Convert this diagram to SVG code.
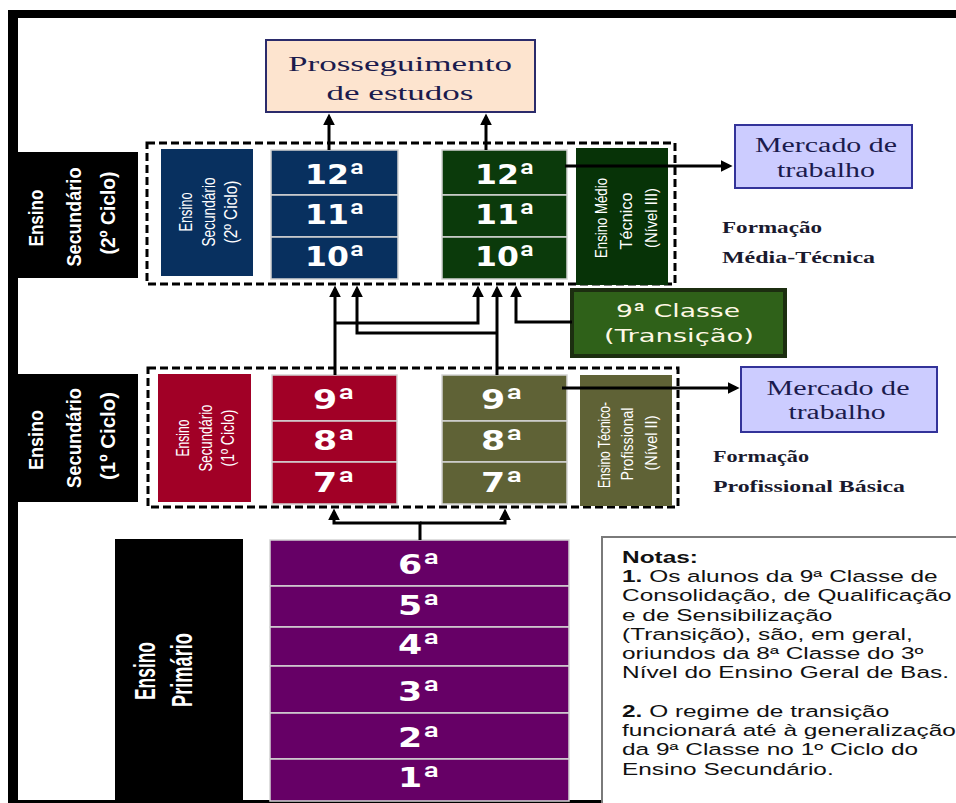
<svg xmlns="http://www.w3.org/2000/svg" width="956" height="803" viewBox="0 0 956 803">
<style>
.wt{fill:#fff;font-family:"Liberation Sans",Arial,sans-serif}
.bw{font-weight:bold}
.grade{fill:#fff;font-family:"DejaVu Sans",Verdana,sans-serif;font-weight:bold;font-size:26px;text-anchor:middle}
.sup{font-family:Roboto,"Noto Sans",sans-serif;font-weight:bold;font-size:30px}
.serif{font-family:"Liberation Serif","Times New Roman",serif;fill:#1b1b4d;text-anchor:middle}
.form{font-family:"Liberation Serif","Times New Roman",serif;font-weight:bold;font-size:16px;fill:#1a1a2e}
.cell{stroke:#d4d4d4;stroke-width:1.5}
.dash{fill:none;stroke:#000;stroke-width:3;stroke-dasharray:8 4}
.conn{fill:none;stroke:#000;stroke-width:3}
.note{font-family:"Liberation Sans",Arial,sans-serif;font-size:16.5px;fill:#111}
</style>
<defs>
<marker id="ah" viewBox="0 0 10 10" refX="7" refY="5" markerWidth="12" markerHeight="12" markerUnits="userSpaceOnUse" orient="auto">
<path d="M0,0 L10,5 L0,10 z" fill="#000"/>
</marker>
</defs>
<rect width="956" height="803" fill="#fff"/>
<g id="frame">
<rect x="8" y="10" width="948" height="8" fill="#000"/>
<rect x="8" y="10" width="10" height="793" fill="#000"/>
<rect x="8" y="800" width="948" height="3" fill="#000"/>
</g>

<g id="prosseguimento">
<rect x="266" y="40" width="269" height="72" fill="#fde4cf" stroke="#2b2b6b" stroke-width="2"/>
<text class="serif" x="400" y="71" font-size="22" textLength="224" lengthAdjust="spacingAndGlyphs">Prosseguimento</text>
<text class="serif" x="400" y="100" font-size="22" textLength="147" lengthAdjust="spacingAndGlyphs">de estudos</text>
</g>

<g id="mercado1">
<rect x="735" y="125" width="177" height="63" fill="#ccccff" stroke="#333399" stroke-width="2"/>
<text class="serif" x="826" y="152" font-size="20" textLength="142" lengthAdjust="spacingAndGlyphs">Mercado de</text>
<text class="serif" x="826" y="177" font-size="20" textLength="98" lengthAdjust="spacingAndGlyphs">trabalho</text>
</g>

<g id="mercado2">
<rect x="741" y="367" width="196" height="65" fill="#ccccff" stroke="#333399" stroke-width="2"/>
<text class="serif" x="838" y="395" font-size="20" textLength="143" lengthAdjust="spacingAndGlyphs">Mercado de</text>
<text class="serif" x="837" y="419" font-size="20" textLength="97" lengthAdjust="spacingAndGlyphs">trabalho</text>
</g>

<g id="label-sec2">
<rect x="17" y="152" width="121" height="126" fill="#000"/>
<text class="wt bw" font-size="21" text-anchor="middle" transform="translate(43,218) rotate(-90)" textLength="57" lengthAdjust="spacingAndGlyphs">Ensino</text>
<text class="wt bw" font-size="21" text-anchor="middle" transform="translate(81,217) rotate(-90)" textLength="99" lengthAdjust="spacingAndGlyphs">Secundário</text>
<text class="wt bw" font-size="21" text-anchor="middle" transform="translate(115,213) rotate(-90)" textLength="83" lengthAdjust="spacingAndGlyphs">(2º Ciclo)</text>
</g>
<g id="label-sec1">
<rect x="17" y="374" width="121" height="128" fill="#000"/>
<text class="wt bw" font-size="21" text-anchor="middle" transform="translate(43,440) rotate(-90)" textLength="60" lengthAdjust="spacingAndGlyphs">Ensino</text>
<text class="wt bw" font-size="21" text-anchor="middle" transform="translate(81,438) rotate(-90)" textLength="100" lengthAdjust="spacingAndGlyphs">Secundário</text>
<text class="wt bw" font-size="21" text-anchor="middle" transform="translate(115,436) rotate(-90)" textLength="88" lengthAdjust="spacingAndGlyphs">(1º Ciclo)</text>
</g>
<g id="label-primario">
<rect x="115" y="539" width="128" height="262" fill="#000"/>
<text class="wt bw" font-size="30" text-anchor="middle" transform="translate(155,671) rotate(-90)" textLength="58" lengthAdjust="spacingAndGlyphs">Ensino</text>
<text class="wt bw" font-size="30" text-anchor="middle" transform="translate(192,670) rotate(-90)" textLength="74" lengthAdjust="spacingAndGlyphs">Primário</text>
</g>

<g id="groups">
<rect class="dash" x="147" y="143" width="528" height="141"/>
<rect class="dash" x="148" y="368" width="530" height="139"/>
</g>

<g id="sec2-blue">
<rect x="161" y="149" width="92" height="127" fill="#08305f"/>
<text class="wt" font-size="18" text-anchor="middle" transform="translate(192,212) rotate(-90)" textLength="39" lengthAdjust="spacingAndGlyphs">Ensino</text>
<text class="wt" font-size="18" text-anchor="middle" transform="translate(215,212) rotate(-90)" textLength="69" lengthAdjust="spacingAndGlyphs">Secundário</text>
<text class="wt" font-size="18" text-anchor="middle" transform="translate(237,212) rotate(-90)" textLength="63" lengthAdjust="spacingAndGlyphs">(2º Ciclo)</text>
</g>
<g id="blue-grades">
<rect class="cell" x="271" y="150" width="127" height="45" fill="#08305f"/>
<rect class="cell" x="271" y="195" width="127" height="42" fill="#08305f"/>
<rect class="cell" x="271" y="237" width="127" height="42" fill="#08305f"/>
<text class="grade" x="335" y="184" textLength="60" lengthAdjust="spacingAndGlyphs">12<tspan class="sup">ª</tspan></text>
<text class="grade" x="335" y="224" textLength="60" lengthAdjust="spacingAndGlyphs">11<tspan class="sup">ª</tspan></text>
<text class="grade" x="335" y="266" textLength="60" lengthAdjust="spacingAndGlyphs">10<tspan class="sup">ª</tspan></text>
</g>

<g id="green-grades">
<rect class="cell" x="442" y="150" width="125" height="45" fill="#0b3a0b"/>
<rect class="cell" x="442" y="195" width="125" height="42" fill="#0b3a0b"/>
<rect class="cell" x="442" y="237" width="125" height="42" fill="#0b3a0b"/>
<text class="grade" x="505" y="184" textLength="60" lengthAdjust="spacingAndGlyphs">12<tspan class="sup">ª</tspan></text>
<text class="grade" x="505" y="224" textLength="60" lengthAdjust="spacingAndGlyphs">11<tspan class="sup">ª</tspan></text>
<text class="grade" x="505" y="266" textLength="60" lengthAdjust="spacingAndGlyphs">10<tspan class="sup">ª</tspan></text>
</g>
<g id="medio-tecnico">
<rect x="576" y="148" width="92" height="137" fill="#073307"/>
<text class="wt" font-size="17" text-anchor="middle" transform="translate(607,218) rotate(-90)" textLength="80" lengthAdjust="spacingAndGlyphs">Ensino Médio</text>
<text class="wt" font-size="17" text-anchor="middle" transform="translate(632,221) rotate(-90)" textLength="57" lengthAdjust="spacingAndGlyphs">Técnico</text>
<text class="wt" font-size="17" text-anchor="middle" transform="translate(657,218) rotate(-90)" textLength="60" lengthAdjust="spacingAndGlyphs">(Nível III)</text>
</g>
<g id="formacao-media">
<text class="form" x="722" y="233" textLength="100" lengthAdjust="spacingAndGlyphs">Formação</text>
<text class="form" x="722" y="263" textLength="153" lengthAdjust="spacingAndGlyphs">Média-Técnica</text>
</g>

<g id="transicao">
<rect x="572" y="290" width="213" height="66" fill="#2f6119" stroke="#1c2e10" stroke-width="4"/>
<text x="678" y="317" font-family="'DejaVu Sans',Verdana,sans-serif" font-size="18" fill="#fff8e6" text-anchor="middle" textLength="124" lengthAdjust="spacingAndGlyphs">9<tspan font-family="Roboto,sans-serif" font-size="19">ª</tspan> Classe</text>
<text x="679" y="342" font-family="'DejaVu Sans',Verdana,sans-serif" font-size="18" fill="#fff8e6" text-anchor="middle" textLength="150" lengthAdjust="spacingAndGlyphs">(Transição)</text>
</g>

<g id="sec1-red">
<rect x="158" y="374" width="93" height="128" fill="#a10026"/>
<text class="wt" font-size="18" text-anchor="middle" transform="translate(189,438) rotate(-90)" textLength="37" lengthAdjust="spacingAndGlyphs">Ensino</text>
<text class="wt" font-size="18" text-anchor="middle" transform="translate(212,438) rotate(-90)" textLength="67" lengthAdjust="spacingAndGlyphs">Secundário</text>
<text class="wt" font-size="18" text-anchor="middle" transform="translate(234,438) rotate(-90)" textLength="57" lengthAdjust="spacingAndGlyphs">(1º Ciclo)</text>
</g>
<g id="red-grades">
<rect class="cell" x="272" y="375" width="125" height="46" fill="#a10026"/>
<rect class="cell" x="272" y="421" width="125" height="41" fill="#a10026"/>
<rect class="cell" x="272" y="462" width="125" height="42" fill="#a10026"/>
<text class="grade" x="334" y="409" textLength="42" lengthAdjust="spacingAndGlyphs">9<tspan class="sup">ª</tspan></text>
<text class="grade" x="334" y="450" textLength="42" lengthAdjust="spacingAndGlyphs">8<tspan class="sup">ª</tspan></text>
<text class="grade" x="334" y="492" textLength="42" lengthAdjust="spacingAndGlyphs">7<tspan class="sup">ª</tspan></text>
</g>
<g id="olive-grades">
<rect class="cell" x="442" y="375" width="125" height="46" fill="#5f6236"/>
<rect class="cell" x="442" y="421" width="125" height="41" fill="#5f6236"/>
<rect class="cell" x="442" y="462" width="125" height="42" fill="#5f6236"/>
<text class="grade" x="502" y="409" textLength="42" lengthAdjust="spacingAndGlyphs">9<tspan class="sup">ª</tspan></text>
<text class="grade" x="502" y="450" textLength="42" lengthAdjust="spacingAndGlyphs">8<tspan class="sup">ª</tspan></text>
<text class="grade" x="502" y="492" textLength="42" lengthAdjust="spacingAndGlyphs">7<tspan class="sup">ª</tspan></text>
</g>
<g id="tecnico-profissional">
<rect x="580" y="375" width="92" height="131" fill="#5f6236"/>
<text class="wt" font-size="17" text-anchor="middle" transform="translate(610,445) rotate(-90)" textLength="86" lengthAdjust="spacingAndGlyphs">Ensino Técnico-</text>
<text class="wt" font-size="17" text-anchor="middle" transform="translate(633,444) rotate(-90)" textLength="73" lengthAdjust="spacingAndGlyphs">Profissional</text>
<text class="wt" font-size="17" text-anchor="middle" transform="translate(657,443) rotate(-90)" textLength="55" lengthAdjust="spacingAndGlyphs">(Nível II)</text>
</g>
<g id="formacao-basica">
<text class="form" x="713" y="462" textLength="96" lengthAdjust="spacingAndGlyphs">Formação</text>
<text class="form" x="713" y="492" textLength="192" lengthAdjust="spacingAndGlyphs">Profissional Básica</text>
</g>

<g id="primario">
<rect class="cell" x="270" y="540" width="299" height="46" fill="#660066"/>
<rect class="cell" x="270" y="586" width="299" height="41" fill="#660066"/>
<rect class="cell" x="270" y="627" width="299" height="39" fill="#660066"/>
<rect class="cell" x="270" y="666" width="299" height="47" fill="#660066"/>
<rect class="cell" x="270" y="713" width="299" height="46" fill="#660066"/>
<rect class="cell" x="270" y="759" width="299" height="42" fill="#660066"/>
<text class="grade" x="419" y="574" textLength="42" lengthAdjust="spacingAndGlyphs">6<tspan class="sup">ª</tspan></text>
<text class="grade" x="419" y="615" textLength="42" lengthAdjust="spacingAndGlyphs">5<tspan class="sup">ª</tspan></text>
<text class="grade" x="419" y="654" textLength="42" lengthAdjust="spacingAndGlyphs">4<tspan class="sup">ª</tspan></text>
<text class="grade" x="419" y="701" textLength="42" lengthAdjust="spacingAndGlyphs">3<tspan class="sup">ª</tspan></text>
<text class="grade" x="419" y="747" textLength="42" lengthAdjust="spacingAndGlyphs">2<tspan class="sup">ª</tspan></text>
<text class="grade" x="419" y="787" textLength="42" lengthAdjust="spacingAndGlyphs">1<tspan class="sup">ª</tspan></text>
</g>

<g id="notas">
<rect x="602" y="537" width="400" height="300" fill="#fff" stroke="#7a7a7a" stroke-width="2"/>
<g transform="translate(622,0) scale(1.48,1)" class="note">
<text x="0" y="563" font-weight="bold">Notas:</text>
<text x="0" y="582"><tspan font-weight="bold">1.</tspan> Os alunos da 9ª Classe de</text>
<text x="0" y="601">Consolidação, de Qualificação</text>
<text x="0" y="621">e de Sensibilização</text>
<text x="0" y="640">(Transição), são, em geral,</text>
<text x="0" y="659">oriundos da 8ª Classe do 3º</text>
<text x="0" y="678">Nível do Ensino Geral de Bas.</text>
<text x="0" y="717"><tspan font-weight="bold">2.</tspan> O regime de transição</text>
<text x="0" y="736">funcionará até à generalização</text>
<text x="0" y="755">da 9ª Classe no 1º Ciclo do</text>
<text x="0" y="775">Ensino Secundário.</text>
</g>
</g>

<g id="connectors" class="conn">
<path d="M329,150 V117" marker-end="url(#ah)"/>
<path d="M486,150 V117" marker-end="url(#ah)"/>
<path d="M565,166 H729" marker-end="url(#ah)"/>
<path d="M562,388 H736" marker-end="url(#ah)"/>
<path d="M335,375 V289" marker-end="url(#ah)"/>
<path d="M335,323 H478 V289" marker-end="url(#ah)"/>
<path d="M497,375 V289" marker-end="url(#ah)"/>
<path d="M497,333 H357 V289" marker-end="url(#ah)"/>
<path d="M572,322 H516 V289" marker-end="url(#ah)"/>
<path d="M420,540 V523 H334 V512" marker-end="url(#ah)"/>
<path d="M420,523 H505 V512" marker-end="url(#ah)"/>
</g>
</svg>
